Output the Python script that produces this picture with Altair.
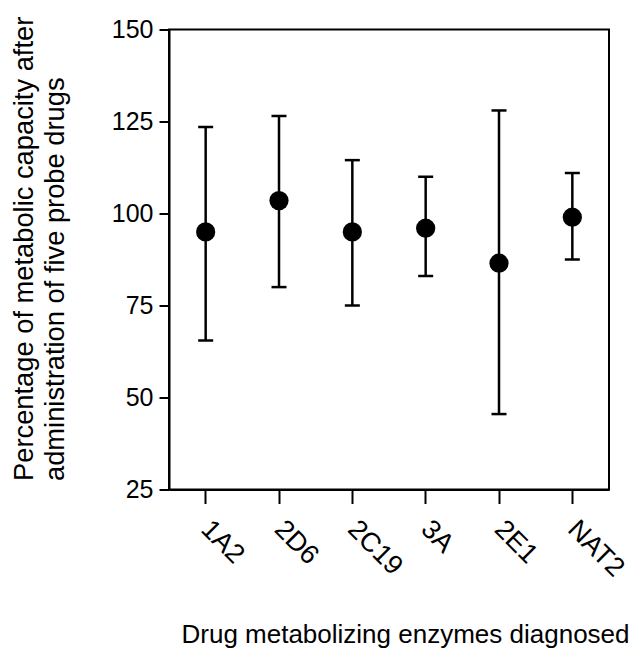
import altair as alt
import pandas as pd

enzymes = ["1A2", "2D6", "2C19", "3A", "2E1", "NAT2"]
mean_pct = [95, 103.5, 95, 96, 86.5, 99]
low_pct = [65.5, 80, 75, 83, 45.5, 87.5]
high_pct = [123.5, 126.5, 114.5, 110, 128, 111]
y_ticks = [25, 50, 75, 100, 125, 150]

df = pd.DataFrame({"enzyme": enzymes, "mean": mean_pct, "low": low_pct, "high": high_pct})

FONT = "Liberation Sans"

x_enc = alt.X(
    "enzyme:N",
    sort=enzymes,
    scale=alt.Scale(paddingInner=0, paddingOuter=0),
    axis=alt.Axis(
        title="Drug metabolizing enzymes diagnosed",
        labelAngle=45,
        labelAlign="left",
        labelBaseline="top",
        labelPadding=12,
        labelOffset=9,
        labelFontSize=27,
        tickSize=14,
        titleX=236,
        titleY=153,
        titleAlign="center",
        titleBaseline="alphabetic",
        titleFontSize=26,
    ),
)
y_scale = alt.Scale(domain=[25, 150], nice=False, zero=False)
y_axis = alt.Axis(
    title=["Percentage of metabolic capacity after", "administration of five probe drugs"],
    values=y_ticks,
    tickSize=10,
    labelPadding=6,
    titleAngle=-90,
    titleX=-137,
    titleY=451,
    titleAlign="left",
    titleBaseline="alphabetic",
    titleLineHeight=31,
    titleFontSize=27.3,
)

base = alt.Chart(df)

rule = base.mark_rule(color="black", strokeWidth=2.5).encode(
    x=x_enc,
    y=alt.Y("low:Q", scale=y_scale, axis=y_axis),
    y2="high:Q",
)
cap_hi = base.mark_tick(color="black", size=15, thickness=2.5, opacity=1).encode(
    x=alt.X("enzyme:N", sort=enzymes), y=alt.Y("high:Q")
)
cap_lo = base.mark_tick(color="black", size=15, thickness=2.5, opacity=1).encode(
    x=alt.X("enzyme:N", sort=enzymes), y=alt.Y("low:Q")
)
pts = base.mark_circle(color="black", size=370, opacity=1).encode(
    x=alt.X("enzyme:N", sort=enzymes), y=alt.Y("mean:Q")
)

chart = (
    alt.layer(rule, cap_hi, cap_lo, pts)
    .properties(
        width=440,
        height=460,
        background="white",
        autosize=alt.AutoSizeParams(type="none"),
        padding={"left": 161, "top": 21.5, "right": 27, "bottom": 159.5},
    )
    .configure_view(stroke="black", strokeWidth=2)
    .configure_axis(
        grid=False,
        domainColor="black",
        domainWidth=2,
        tickColor="black",
        tickWidth=2,
        labelColor="black",
        labelFont=FONT,
        labelFontSize=25,
        titleColor="black",
        titleFont=FONT,
        titleFontWeight="normal",
    )
)

chart.save("out.html", embed_options={"renderer": "svg", "actions": False})
